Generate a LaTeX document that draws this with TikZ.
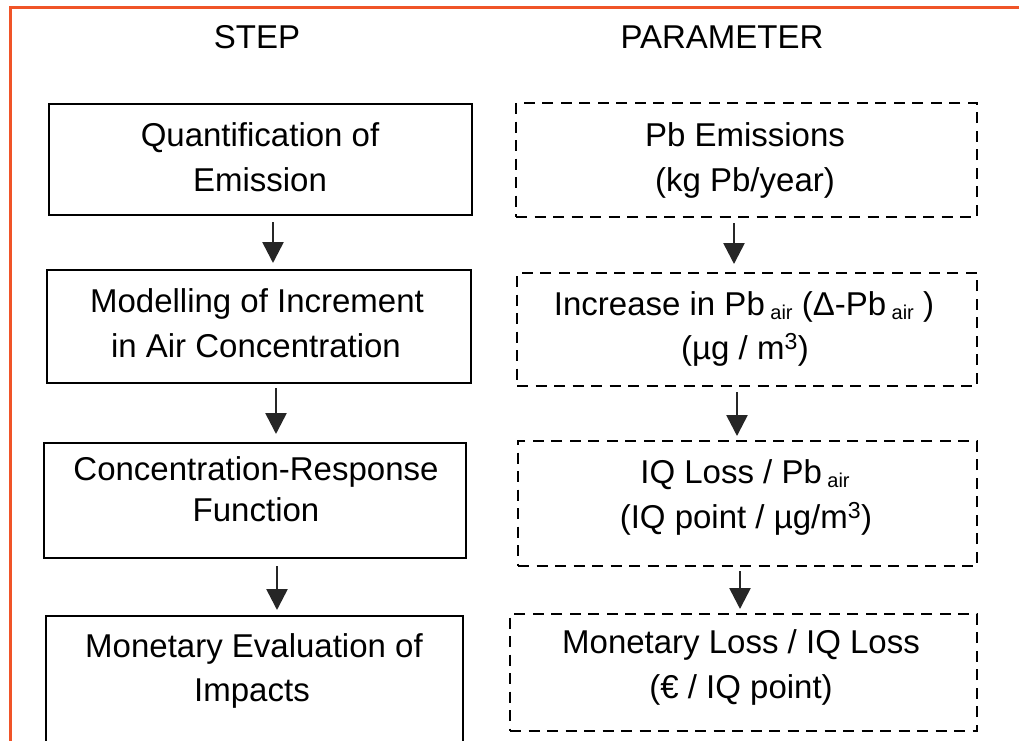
\documentclass[tikz,border=0pt]{standalone}
\usepackage{fontspec}
\setmainfont{Liberation Sans}
\usetikzlibrary{arrows.meta}
\definecolor{frameorange}{RGB}{240,84,40}
\newcommand{\airsub}{\,{\fontsize{20}{20}\selectfont\raisebox{-4pt}{air}}}
\begin{document}
\begin{tikzpicture}[x=1pt,y=-1pt,
  stepbox/.style={draw=black, line width=2.4pt, rectangle, inner sep=0pt, outer sep=0pt},
  parambox/.style={draw=black, line width=2.2pt, dash pattern=on 11pt off 7.5pt, rectangle, inner sep=0pt, outer sep=0pt},
  txt/.style={font=\fontsize{33}{40}\selectfont, inner sep=0pt, anchor=base},
  flow/.style={draw=black!85, line width=2.6pt, -{Triangle[width=21pt,length=21pt]}},
  frame/.style={draw=frameorange, line width=3pt}]
\useasboundingbox (0,0) rectangle (1019,740);
% orange frame
\coordinate (fb) at (10,745);
\coordinate (fc) at (10,7);
\coordinate (fr) at (1025,7);
\draw[frame] (fb) -- (fc) -- (fr);
% headers
\node[txt] (hstep) at (257,48) {STEP};
\node[txt] (hpar) at (722,48) {PARAMETER};
% step boxes
\node[stepbox, minimum width=423, minimum height=111] (s1) at (260.5,159.5) {};
\node[stepbox, minimum width=424, minimum height=113] (s2) at (259,326.5) {};
\node[stepbox, minimum width=422, minimum height=115] (s3) at (255,500.5) {};
\node[stepbox, minimum width=417, minimum height=144] (s4) at (254.5,688) {};
% parameter boxes
\node[parambox, minimum width=461, minimum height=114] (p1) at (746.5,160) {};
\node[parambox, minimum width=460, minimum height=113] (p2) at (747,329.5) {};
\node[parambox, minimum width=459, minimum height=125] (p3) at (747.5,503.5) {};
\node[parambox, minimum width=467, minimum height=117] (p4) at (743.5,672.5) {};
% step texts
\node[txt] (s1a) at (260,146) {Quantification of};
\node[txt] (s1b) at (260,191) {Emission};
\node[txt] (s2a) at (257,312) {Modelling of Increment};
\node[txt] (s2b) at (256,357) {in Air Concentration};
\node[txt] (s3a) at (256,480) {Concentration-Response};
\node[txt] (s3b) at (256,521) {Function};
\node[txt] (s4a) at (254,657) {Monetary Evaluation of};
\node[txt] (s4b) at (252,701) {Impacts};
% parameter texts
\node[txt] (p1a) at (745,146) {Pb Emissions};
\node[txt] (p1b) at (745,191) {(kg Pb/year)};
\node[txt] (p2a) at (744,315) {Increase in Pb\airsub{} (Δ-Pb\airsub{} )};
\node[txt] (p2b) at (745,359) {(µg / m\textsuperscript{3})};
\node[txt] (p3a) at (745,483) {IQ Loss / Pb\airsub};
\node[txt] (p3b) at (746,528) {(IQ point / µg/m\textsuperscript{3})};
\node[txt] (p4a) at (741,653) {Monetary Loss / IQ Loss};
\node[txt] (p4b) at (741,698) {(€ / IQ point)};
% arrow columns
\coordinate (xa1) at (273,0);
\coordinate (xa2) at (276,0);
\coordinate (xa3) at (277,0);
\coordinate (xb1) at (734,0);
\coordinate (xb2) at (737,0);
\coordinate (xb3) at (740,0);
\draw[flow, shorten <=7pt, shorten >=7pt] (s1.south -| xa1) -- (s2.north -| xa1);
\draw[flow, shorten <=5pt, shorten >=9pt] (s2.south -| xa2) -- (s3.north -| xa2);
\draw[flow, shorten <=8pt, shorten >=6pt] (s3.south -| xa3) -- (s4.north -| xa3);
\draw[flow, shorten <=6pt, shorten >=9pt] (p1.south -| xb1) -- (p2.north -| xb1);
\draw[flow, shorten <=6pt, shorten >=5pt] (p2.south -| xb2) -- (p3.north -| xb2);
\draw[flow, shorten <=5pt, shorten >=5pt] (p3.south -| xb3) -- (p4.north -| xb3);
\end{tikzpicture}
\end{document}
